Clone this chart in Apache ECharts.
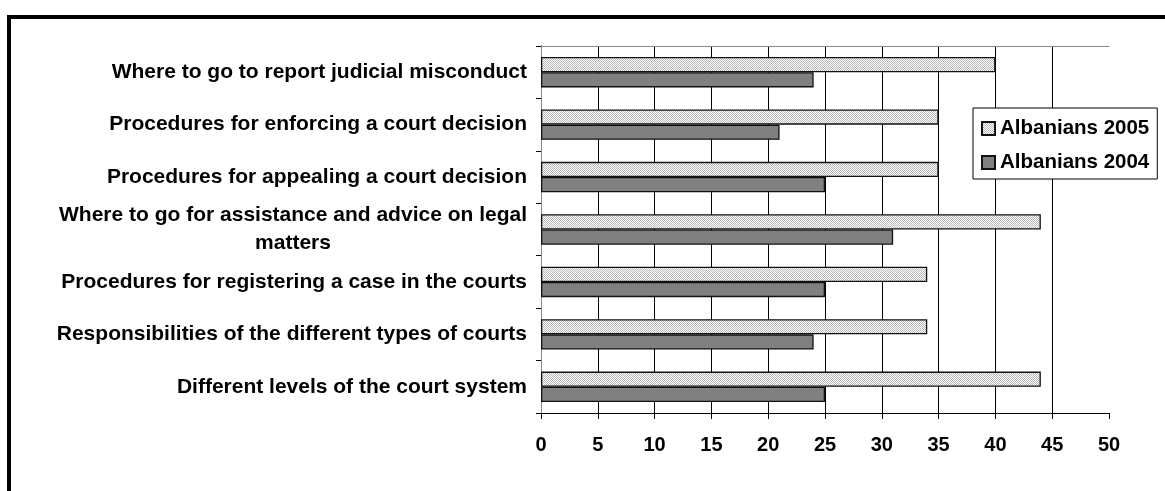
<!DOCTYPE html>
<html>
<head>
<meta charset="utf-8">
<script src="https://cdn.jsdelivr.net/npm/echarts@6/dist/echarts.min.js"></script>
<style>
html,body{margin:0;padding:0;background:#fff;}
#chart{width:1165px;height:491px;}
</style>
</head>
<body>
<div id="chart"></div>
<script>
// Categories listed bottom to top (ECharts category y axis starts at bottom)
const categories = [
  'Different levels of the court system',
  'Responsibilities of the different types of courts',
  'Procedures for registering a case in the courts',
  'Where to go for assistance and advice on legal\nmatters',
  'Procedures for appealing a court decision',
  'Procedures for enforcing a court decision',
  'Where to go to report judicial misconduct'
];
const albanians2005 = [44, 34, 34, 44, 35, 35, 40];
const albanians2004 = [25, 24, 25, 31, 25, 21, 24];
const seriesNames = ['Albanians 2005', 'Albanians 2004'];
const xTicks = [0, 50, 5]; // min, max, interval

// checker pattern for the light bars
const pat = document.createElement('canvas');
pat.width = 2; pat.height = 2;
const pc = pat.getContext('2d');
pc.fillStyle = '#ffffff'; pc.fillRect(0, 0, 2, 2);
pc.fillStyle = '#b8b8b8'; pc.fillRect(0, 0, 1, 1); pc.fillRect(1, 1, 1, 1);

const FONT = 'Liberation Sans, Arial, sans-serif';
const LFS = 21;
const chart = echarts.init(document.getElementById('chart'), null, {renderer: 'canvas'});

chart.setOption({
  backgroundColor: '#ffffff',
  animation: false,
  textStyle: {fontFamily: FONT},
  graphic: [{
    type: 'rect', silent: true, z: 100,
    shape: {x: 9, y: 17, width: 1300, height: 700},
    style: {fill: null, stroke: '#000', lineWidth: 4}
  }],
  grid: {left: 541, right: 56, top: 46, bottom: 78, containLabel: false},
  legend: {
    orient: 'vertical',
    left: 973, top: 108,
    data: seriesNames,
    backgroundColor: '#fff',
    borderColor: '#000', borderWidth: 1, borderRadius: 0,
    padding: [10, 8, 6, 8],
    itemWidth: 13, itemHeight: 13, itemGap: 13,
    icon: 'rect',
    textStyle: {fontFamily: FONT, fontWeight: 'bold', fontSize: 20.5, color: '#000'}
  },
  xAxis: [{
    type: 'value', min: xTicks[0], max: xTicks[1], interval: xTicks[2],
    axisLine: {show: true, lineStyle: {color: '#000', width: 1}},
    axisTick: {show: true, length: 6, lineStyle: {color: '#000'}},
    axisLabel: {margin: 22, fontFamily: FONT, fontWeight: 'bold', fontSize: 20, color: '#000'},
    splitLine: {show: true, showMinLine: false, showMaxLine: false, lineStyle: {color: '#000', width: 1}}
  }, {
    type: 'value', position: 'top', min: xTicks[0], max: xTicks[1], interval: xTicks[2],
    axisLine: {show: true, lineStyle: {color: '#888', width: 1}},
    axisTick: {show: false}, axisLabel: {show: false}, splitLine: {show: false}
  }],
  yAxis: [{
    type: 'category', data: categories,
    axisLine: {show: true, lineStyle: {color: '#000', width: 1}},
    axisTick: {show: true, length: 5, lineStyle: {color: '#000'}},
    axisLabel: {
      margin: 14, color: '#000', fontFamily: FONT, fontWeight: 'bold', fontSize: LFS, lineHeight: 28,
      formatter: function (v) {
        const lines = v.split('\n');
        if (lines.length === 1) return v;
        return lines.map((l, i) => (i === 0 ? '{r|' + l + '}' : '{c|' + l + '}')).join('\n');
      },
      rich: {
        r: {fontFamily: FONT, fontWeight: 'bold', fontSize: LFS, lineHeight: 28, color: '#000', align: 'right'},
        c: {fontFamily: FONT, fontWeight: 'bold', fontSize: LFS, lineHeight: 28, color: '#000', align: 'center'}
      }
    },
    splitLine: {show: false}
  }, {
    type: 'category', position: 'right', data: categories,
    axisLine: {show: true, lineStyle: {color: '#888', width: 1}},
    axisTick: {show: false}, axisLabel: {show: false}, splitLine: {show: false}
  }],
  series: [{
    name: seriesNames[0], type: 'bar', data: albanians2005,
    barGap: '0%', barCategoryGap: '42%',
    itemStyle: {color: {image: pat, repeat: 'repeat'}, borderColor: '#111', borderWidth: 1.3}
  }, {
    name: seriesNames[1], type: 'bar', data: albanians2004,
    barGap: '0%', barCategoryGap: '42%',
    itemStyle: {color: '#808080', borderColor: '#111', borderWidth: 1.3}
  }]
});
</script>
</body>
</html>
